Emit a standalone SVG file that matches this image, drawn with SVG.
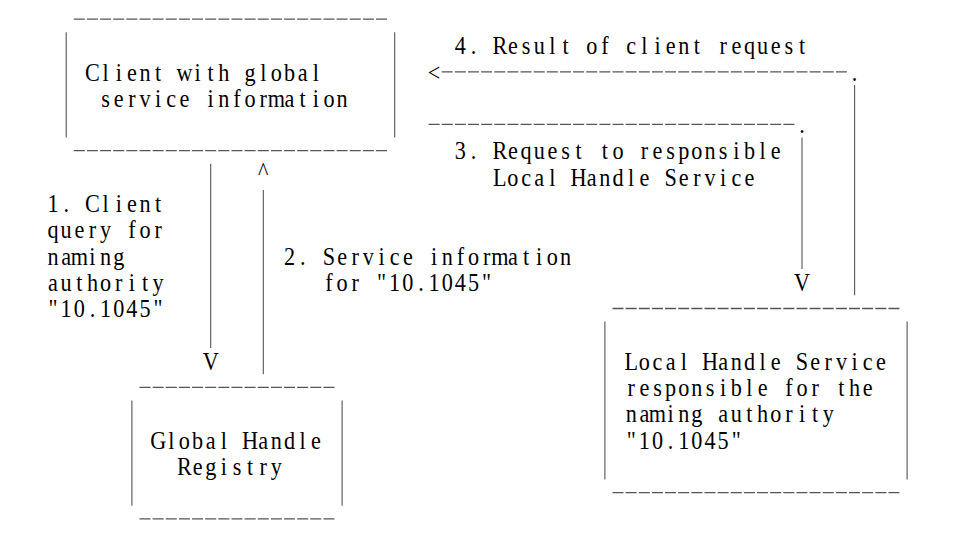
<svg xmlns="http://www.w3.org/2000/svg" width="959" height="545" viewBox="0 0 959 545">
<style>
.t{font-family:"Liberation Serif","DejaVu Serif",serif;font-size:25.5px;fill:#000;text-anchor:middle}
.d{stroke:#555;stroke-width:1.3;stroke-dasharray:11 2.14;fill:none}
.v{stroke:#555;stroke-width:1.1;fill:none}
</style>
<rect width="959" height="545" fill="#fff"/>
<g id="client">
<path class="d" d="M73.8 19.2H387"/>
<path class="d" d="M73.8 150.7H387"/>
<path class="v" d="M66.2 32.3V137.5M394.7 32.3V137.5"/>
<g transform="scale(0.87 1)">
<text class="t" y="80.6" x="106.26 121.37 136.47 151.57 166.68 181.78 196.88 211.99 227.09 242.19 257.30 272.40 287.50 302.61 317.71 332.81 347.92 363.02">Client with global</text>
<text class="t" y="106.9" x="121.37 136.47 151.57 166.68 181.78 196.88 211.99 227.09 242.19 257.30 272.40 287.50 302.61 317.71 332.81 347.92 363.02 378.12 393.23">service information</text>
</g>
</g>
<g id="ghr">
<path class="d" d="M139.5 387.4H334.5"/>
<path class="d" d="M139.5 518.9H334.5"/>
<path class="v" d="M131.9 400.5V505.7M342.1 400.5V505.7"/>
<g transform="scale(0.87 1)">
<text class="t" y="448.8" x="181.78 196.88 211.99 227.09 242.19 257.30 272.40 287.50 302.61 317.71 332.81 347.92 363.02">Global Handle</text>
<text class="t" y="475.1" x="211.99 227.09 242.19 257.30 272.40 287.50 302.61 317.71">Registry</text>
</g>
</g>
<g id="lhs">
<path class="d" d="M612.5 308.5H899.5"/>
<path class="d" d="M612.5 492.6H899.5"/>
<path class="v" d="M604.9 321.6V479.4M907.1 321.6V479.4"/>
<g transform="scale(0.87 1)">
<text class="t" y="369.9" x="725.50 740.61 755.71 770.81 785.92 801.02 816.12 831.23 846.33 861.44 876.54 891.64 906.75 921.85 936.95 952.06 967.16 982.26 997.37 1012.47">Local Handle Service</text>
<text class="t" y="396.2" x="725.50 740.61 755.71 770.81 785.92 801.02 816.12 831.23 846.33 861.44 876.54 891.64 906.75 921.85 936.95 952.06 967.16 982.26 997.37">responsible for the</text>
<text class="t" y="422.5" x="725.50 740.61 755.71 770.81 785.92 801.02 816.12 831.23 846.33 861.44 876.54 891.64 906.75 921.85 936.95 952.06">naming authority</text>
<text class="t" y="448.8" x="725.50 740.61 755.71 770.81 785.92 801.02 816.12 831.23 846.33">"10.1045"</text>
</g>
</g>
<g id="connectors">
<g id="c1">
<path class="v" d="M210.7 163.8V347.9"/>
<g transform="scale(0.87 1)">
<text class="t" x="242.19" y="369.9">V</text>
<text class="t" y="212.1" x="60.95 76.06 91.16 106.26 121.37 136.47 151.57 166.68 181.78">1. Client</text>
<text class="t" y="238.4" x="60.95 76.06 91.16 106.26 121.37 136.47 151.57 166.68 181.78">query for</text>
<text class="t" y="264.7" x="60.95 76.06 91.16 106.26 121.37 136.47">naming</text>
<text class="t" y="291" x="60.95 76.06 91.16 106.26 121.37 136.47 151.57 166.68 181.78">authority</text>
<text class="t" y="317.3" x="60.95 76.06 91.16 106.26 121.37 136.47 151.57 166.68 181.78">"10.1045"</text>
</g>
</g>
<g id="c2">
<path class="v" d="M263.3 190.1V374.2"/>
<g transform="scale(0.87 1)">
<text class="t" x="302.61" y="180">^</text>
<text class="t" y="264.7" x="332.81 347.92 363.02 378.12 393.23 408.33 423.44 438.54 453.64 468.75 483.85 498.95 514.06 529.16 544.26 559.37 574.47 589.57 604.68 619.78 634.88 649.99">2. Service information</text>
<text class="t" y="291" x="378.12 393.23 408.33 423.44 438.54 453.64 468.75 483.85 498.95 514.06 529.16 544.26 559.37">for "10.1045"</text>
</g>
</g>
<g id="c3">
<path class="d" d="M428.6 124.4H794.4"/>
<path class="v" d="M802 137.5V269"/>
<g transform="scale(0.87 1)">
<text class="t" x="921.85" y="133.2">.</text>
<text class="t" x="921.85" y="291">V</text>
<text class="t" y="159.5" x="529.16 544.26 559.37 574.47 589.57 604.68 619.78 634.88 649.99 665.09 680.19 695.30 710.40 725.50 740.61 755.71 770.81 785.92 801.02 816.12 831.23 846.33 861.44 876.54 891.64">3. Request to responsible</text>
<text class="t" y="185.8" x="574.47 589.57 604.68 619.78 634.88 649.99 665.09 680.19 695.30 710.40 725.50 740.61 755.71 770.81 785.92 801.02 816.12 831.23 846.33 861.44">Local Handle Service</text>
</g>
</g>
<g id="c4">
<path class="d" d="M441.7 71.8H847"/>
<path class="v" d="M854.6 84.9V295.3"/>
<g transform="scale(0.87 1)">
<text class="t" y="54.3" x="529.16 544.26 559.37 574.47 589.57 604.68 619.78 634.88 649.99 665.09 680.19 695.30 710.40 725.50 740.61 755.71 770.81 785.92 801.02 816.12 831.23 846.33 861.44 876.54 891.64 906.75 921.85">4. Result of client request</text>
<text class="t" x="498.95" y="80.6">&lt;</text>
<text class="t" x="982.26" y="80.6">.</text>
</g>
</g>
</g>
</svg>
